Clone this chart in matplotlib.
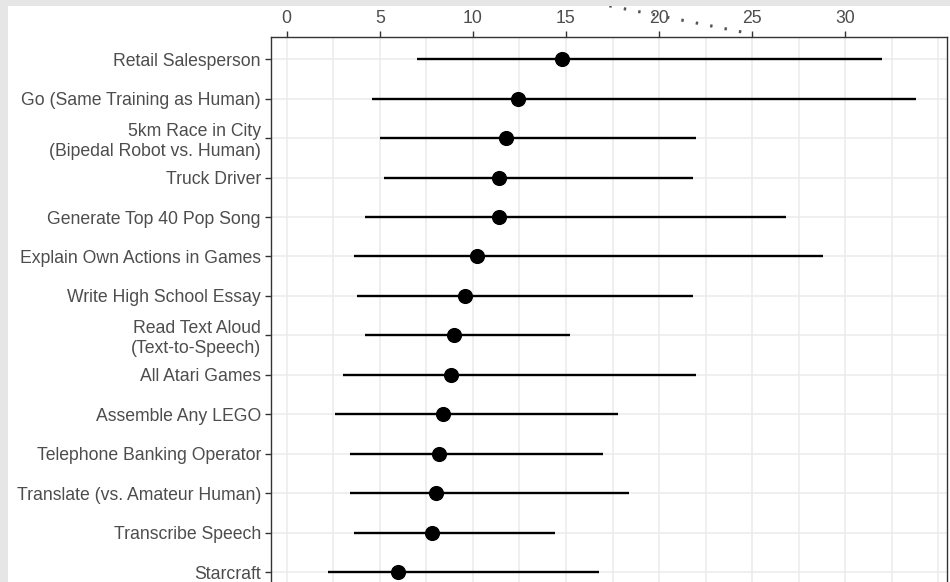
import numpy as np
import matplotlib
matplotlib.use("Agg")
import matplotlib.pyplot as plt
from matplotlib.patches import Rectangle
from matplotlib.lines import Line2D

plt.rcParams["font.family"] = ["Liberation Sans", "DejaVu Sans"]

tasks = [
    "Retail Salesperson",
    "Go (Same Training as Human)",
    "5km Race in City\n(Bipedal Robot vs. Human)",
    "Truck Driver",
    "Generate Top 40 Pop Song",
    "Explain Own Actions in Games",
    "Write High School Essay",
    "Read Text Aloud\n(Text-to-Speech)",
    "All Atari Games",
    "Assemble Any LEGO",
    "Telephone Banking Operator",
    "Translate (vs. Amateur Human)",
    "Transcribe Speech",
    "Starcraft",
]
median_years = [14.8, 12.4, 11.8, 11.4, 11.4, 10.2, 9.6, 9.0, 8.8, 8.4, 8.2, 8.0, 7.8, 6.0]
low_years = [7.0, 4.6, 5.0, 5.2, 4.2, 3.6, 3.8, 4.2, 3.0, 2.6, 3.4, 3.4, 3.6, 2.2]
high_years = [32.0, 33.8, 22.0, 21.8, 26.8, 28.8, 21.8, 15.2, 22.0, 17.8, 17.0, 18.4, 14.4, 16.8]
x_ticks = [0, 5, 10, 15, 20, 25, 30]

W, H = 950, 582
fig = plt.figure(figsize=(W / 100, H / 100), dpi=100)
fig.patch.set_facecolor("#e6e6e6")
fig.add_artist(Rectangle((8 / W, 0), 1, (H - 6) / H, transform=fig.transFigure,
                         facecolor="white", edgecolor="none", zorder=-10))

# axes box in pixels (panel runs off the bottom of the picture)
left, right, top, bottom = 270.7, 946.7, 37.0, 620.0
ax = fig.add_axes([left / W, (H - bottom) / H, (right - left) / W, (bottom - top) / H])
ax.set_zorder(2)

y = np.arange(len(tasks))
row0, step = 59.3, 39.44
ax.set_ylim((bottom - row0) / step, -(row0 - top) / step)
ax.set_xlim(-0.86, 35.45)

for g in np.arange(0, 35.1, 2.5):
    ax.axvline(g, color="#ebebeb", lw=1.1, zorder=0)
for yy in y:
    ax.axhline(yy, color="#ebebeb", lw=1.1, zorder=0)

ax.hlines(y, low_years, high_years, color="black", lw=1.7, zorder=2)
ax.scatter(median_years, y, s=98, color="black", zorder=3)

ax.set_yticks(y)
ax.set_yticklabels(tasks, fontsize=12.7, color="#4d4d4d", ha="right", linespacing=1.2)
ax.set_xticks(x_ticks)
ax.set_xticklabels([str(t) for t in x_ticks], fontsize=12.7, color="#4d4d4d")
ax.xaxis.tick_top()
ax.tick_params(axis="both", length=4.5, width=1.0, color="#333333", pad=2.5)

for s in ax.spines.values():
    s.set_color("#333333")
    s.set_linewidth(1.0)

# dotted stray curve above the panel
fig.add_artist(Line2D([595 / W, 752 / W], [1 - 3 / H, 1 - 34 / H], transform=fig.transFigure,
                      color="#555555", lw=2.2, linestyle=(0, (0.8, 4.0)), zorder=5))
fig.add_artist(Rectangle((0, 1 - 6 / H), 1, 6 / H, transform=fig.transFigure,
                         facecolor="#e6e6e6", edgecolor="none", zorder=6))

fig.savefig("out.png", dpi=100, facecolor=fig.get_facecolor())
